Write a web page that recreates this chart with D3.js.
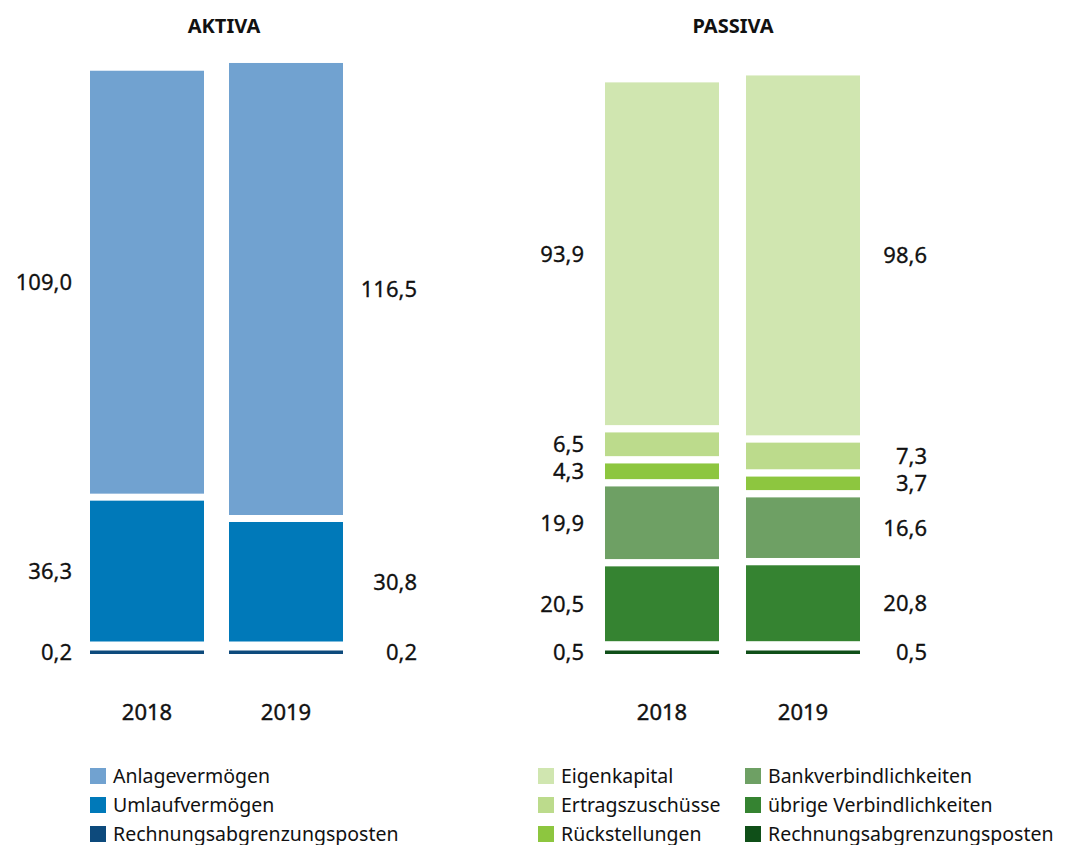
<!DOCTYPE html>
<html>
<head>
<meta charset="utf-8">
<script src="https://cdn.jsdelivr.net/npm/d3@7"></script>
<style>
  body { margin: 0; background: #fff; }
  svg text { font-family: "Noto Sans", sans-serif; fill: #111; }
</style>
</head>
<body>
<script>
// values, bottom segment first
var years = ['2018', '2019'];

var aktivaSeries = ['Rechnungsabgrenzungsposten', 'Umlaufvermögen', 'Anlagevermögen'];
var aktiva2018 = [0.2, 36.3, 109.0];
var aktiva2019 = [0.2, 30.8, 116.5];
var aktivaColors = ['#0d4a7c', '#0079b9', '#71a2d0'];

var passivaSeries = ['Rechnungsabgrenzungsposten', 'übrige Verbindlichkeiten', 'Bankverbindlichkeiten',
  'Rückstellungen', 'Ertragszuschüsse', 'Eigenkapital'];
var passiva2018 = [0.5, 20.5, 19.9, 4.3, 6.5, 93.9];
var passiva2019 = [0.5, 20.8, 16.6, 3.7, 7.3, 98.6];
var passivaColors = ['#0f4f18', '#358331', '#6ea064', '#8dc63f', '#bcdb8c', '#d0e6b0'];

var fmt = function (v) { return d3.format('.1f')(v).replace('.', ','); };

var svg = d3.select('body').append('svg')
  .attr('width', 1072)
  .attr('height', 845);

// draws one stacked panel, gaps between segments, tiny ones get a min height
function panel(cfg) {
  var g = svg.append('g');
  var x = d3.scaleBand().domain(years).range(cfg.xRange).paddingInner(cfg.pad);
  var h = d3.scaleLinear().domain([0, 150]).range([0, cfg.pxHeight]);

  years.forEach(function (yr, i) {
    var vals = cfg.values[i];
    var cursor = cfg.baseline;
    vals.forEach(function (v, j) {
      var hh = h(v);
      var barH = Math.max(hh, 3.5);
      var slot = Math.max(hh, 5.5);
      g.append('rect')
        .attr('x', x(yr))
        .attr('y', cursor - barH)
        .attr('width', x.bandwidth())
        .attr('height', barH)
        .attr('fill', cfg.colors[j]);
      g.append('text')
        .attr('x', cfg.labelX[i])
        .attr('y', cursor - barH / 2)
        .attr('dy', '0.36em')
        .attr('text-anchor', 'end')
        .style('font-size', '22px')
        .style('stroke', '#111')
        .style('stroke-width', 0.3)
        .text(fmt(v));
      cursor -= slot + cfg.gap;
    });

    g.append('text')
      .attr('x', x(yr) + x.bandwidth() / 2)
      .attr('y', 720)
      .attr('text-anchor', 'middle')
      .style('font-size', '22px')
      .style('stroke', '#111')
      .style('stroke-width', 0.4)
      .text(yr);
  });

  g.append('text')
    .attr('x', cfg.titleX)
    .attr('y', 33)
    .attr('text-anchor', 'middle')
    .style('font-size', '20px')
    .style('font-weight', 'bold')
    .text(cfg.title);

  // legend, listed top segment first
  var items = cfg.series.map(function (s, j) { return { name: s, color: cfg.colors[j] }; }).reverse();
  items.forEach(function (d, k) {
    var col = Math.floor(k / 3), row = k % 3;
    var lx = cfg.legendX[col], ly = 768 + row * 29;
    g.append('rect')
      .attr('x', lx).attr('y', ly)
      .attr('width', 16).attr('height', 16)
      .attr('fill', d.color);
    g.append('text')
      .attr('x', lx + 23)
      .attr('y', ly + 15)
      .style('font-size', '19.5px')
      .text(d.name);
  });
}

panel({
  title: 'AKTIVA', titleX: 224,
  series: aktivaSeries, values: [aktiva2018, aktiva2019], colors: aktivaColors,
  xRange: [90, 343], pad: 25 / 139,
  pxHeight: 150 * 3.88, baseline: 654, gap: 7,
  labelX: [72, 417], legendX: [90]
});

panel({
  title: 'PASSIVA', titleX: 733,
  series: passivaSeries, values: [passiva2018, passiva2019], colors: passivaColors,
  xRange: [605, 860], pad: 27 / 141,
  pxHeight: 150 * 3.65, baseline: 654, gap: 7.3,
  labelX: [584, 927], legendX: [538, 745]
});
</script>
</body>
</html>
